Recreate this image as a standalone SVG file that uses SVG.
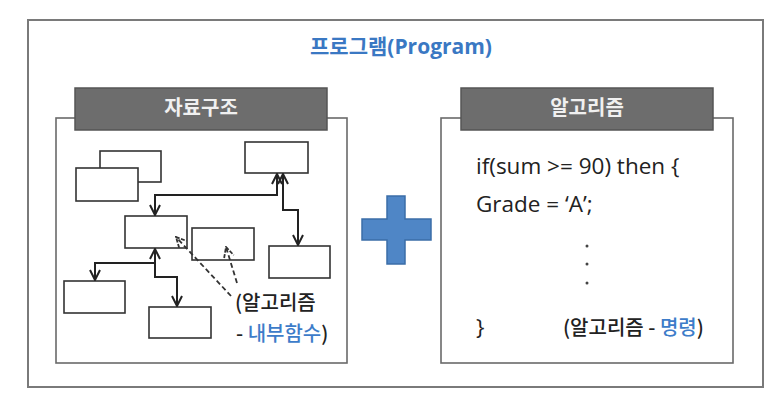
<svg xmlns="http://www.w3.org/2000/svg" width="778" height="406" viewBox="0 0 778 406">
<defs>
<style>
.frame{fill:#fff;stroke:#7a7a7a;stroke-width:2}
.panel{fill:#fff;stroke:#6a6a6a;stroke-width:1.6}
.hdr{fill:#6d6d6d;stroke:#555;stroke-width:1.5}
.hdrtxt{font-family:"Noto Sans CJK KR","Open Sans",sans-serif;font-size:20px;font-weight:bold;fill:#f0f0f0;text-anchor:middle}
.box{fill:#fff;stroke:#333;stroke-width:1.6}
.conn{fill:none;stroke:#222;stroke-width:2}
.dash{fill:none;stroke:#333;stroke-width:1.8;stroke-dasharray:5,3}
.txt{font-family:"Open Sans","Noto Sans CJK KR",sans-serif;fill:#222}
.ko{font-family:"Noto Sans CJK KR","Open Sans",sans-serif;font-size:20px;font-weight:500;fill:#222}
.blue{fill:#3d7cc9}
</style>
<marker id="ah" viewBox="0 0 12 12" refX="11" refY="6" markerWidth="12" markerHeight="12" markerUnits="userSpaceOnUse" orient="auto-start-reverse">
<path d="M1,1 L11,6 L1,11" fill="none" stroke="#222" stroke-width="2"/>
</marker>
<marker id="ahd" viewBox="0 0 12 12" refX="11" refY="6" markerWidth="12" markerHeight="12" markerUnits="userSpaceOnUse" orient="auto">
<path d="M1,1 L11,6 L1,11" fill="none" stroke="#333" stroke-width="1.8" stroke-dasharray="4,1.5"/>
</marker>
</defs>
<rect width="778" height="406" fill="#fff"/>
<g id="program">
<rect class="frame" x="28" y="20" width="735" height="367"/>
<text x="401" y="54" text-anchor="middle" font-family="Open Sans,Noto Sans CJK KR,sans-serif" font-size="21" font-weight="bold" fill="#3a78c3">프로그램(Program)</text>
</g>
<g id="data-structure">
<rect class="panel" x="56" y="118" width="291" height="245"/>
<rect class="hdr" x="75" y="88" width="252" height="42"/>
<text class="hdrtxt" x="201" y="115">자료구조</text>
</g>
<g id="algorithm">
<rect class="panel" x="441" y="118" width="292" height="245"/>
<rect class="hdr" x="461" y="88" width="252" height="42"/>
<text class="hdrtxt" x="587" y="115">알고리즘</text>
<text class="txt" x="476" y="174" font-size="22.5">if(sum &gt;= 90) then {</text>
<text class="txt" x="476" y="212" font-size="22.5">Grade = ‘A’;</text>
<circle cx="587" cy="246" r="1.5" fill="#444"/>
<circle cx="587" cy="264" r="1.5" fill="#444"/>
<circle cx="587" cy="283" r="1.5" fill="#444"/>
<text class="txt" x="476" y="335" font-size="22.5">}</text>
<text class="ko" x="563" y="335">(알고리즘 - <tspan class="blue">명령</tspan>)</text>
</g>
<g id="plus">
<path d="M387,196 H405 V219 H431 V240 H405 V264 H387 V240 H362 V219 H387 Z" fill="#4f86c6" stroke="#3b6ea8" stroke-width="1.5"/>
</g>
<g id="box-back"><rect class="box" x="100" y="151" width="61" height="31"/></g>
<g id="box-front"><rect class="box" x="76" y="168" width="62" height="33"/></g>
<g id="box-top-right"><rect class="box" x="245" y="142" width="63" height="31"/></g>
<g id="box-middle"><rect class="box" x="125" y="216" width="62" height="32"/></g>
<g id="box-small"><rect class="box" x="192" y="228" width="62" height="32"/></g>
<g id="box-right"><rect class="box" x="269" y="246" width="61" height="32"/></g>
<g id="box-bottom-left"><rect class="box" x="64" y="281" width="61" height="32"/></g>
<g id="box-bottom"><rect class="box" x="149" y="307" width="62" height="31"/></g>
<g id="connectors">
<path class="conn" d="M277,174 V195 H155 V215" marker-start="url(#ah)" marker-end="url(#ah)"/>
<path class="conn" d="M283,174 V210 H298 V245" marker-start="url(#ah)" marker-end="url(#ah)"/>
<path class="conn" d="M155,249 V263 H95 V280" marker-start="url(#ah)" marker-end="url(#ah)"/>
<path class="conn" d="M155,249 V277 H177 V306" marker-end="url(#ah)"/>
<path class="dash" d="M231,296 L176,237" marker-end="url(#ahd)"/>
<path class="dash" d="M237,283 L226,247" marker-end="url(#ahd)"/>
</g>
<g id="labels">
<text class="ko" x="235" y="310">(알고리즘</text>
<text class="ko" x="236" y="341">- <tspan class="blue">내부함수</tspan>)</text>
</g>
</svg>
